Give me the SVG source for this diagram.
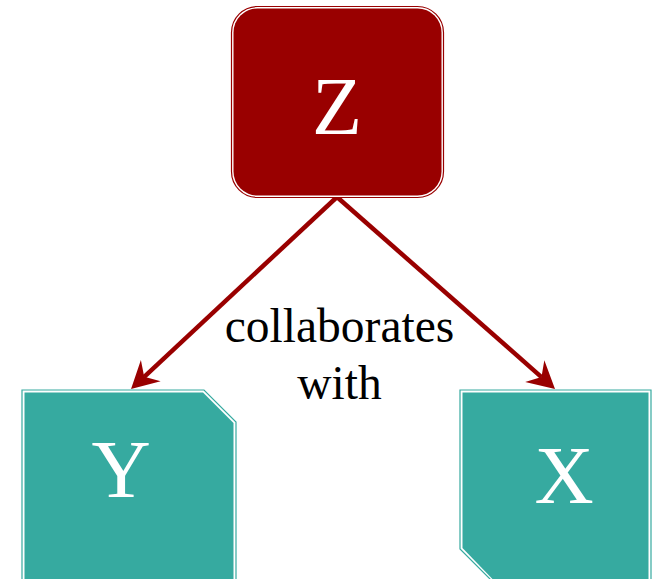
<svg xmlns="http://www.w3.org/2000/svg" width="652" height="579" viewBox="0 0 652 579">
<style>
.lbl{font-family:"Liberation Serif","Times New Roman",serif;fill:#ffffff;font-size:82px;text-anchor:middle}
.elbl{font-family:"Liberation Serif","Times New Roman",serif;fill:#000000;font-size:47.5px;text-anchor:middle}
.edge{stroke:#990000;stroke-width:4.5;fill:none}
.zout{fill:#ffffff;stroke:#990000;stroke-width:1.2}
.zin{fill:#990000}
.tout{fill:#ffffff;stroke:#36aaa0;stroke-width:1.2}
.tin{fill:#36aaa0}
</style>
<defs>
<marker id="vee" viewBox="0 -16 32 32" markerWidth="32" markerHeight="32" refX="12" refY="0" orient="auto" markerUnits="userSpaceOnUse">
<path d="M30,0 L3,-14.5 L12,0 L3,14.5 Z" fill="#990000"/>
</marker>
</defs>
<g id="connectors">
<line class="edge" x1="337" y1="197" x2="144.2" y2="376.8" marker-end="url(#vee)"/>
<line class="edge" x1="337" y1="197" x2="541.5" y2="377.1" marker-end="url(#vee)"/>
<text class="elbl" x="339.5" y="341.5">collaborates</text>
<text class="elbl" x="339.5" y="398.5">with</text>
</g>
<g id="node-z">
<rect class="zout" x="231.5" y="6.5" width="212" height="191" rx="26"/>
<rect class="zin" x="233.5" y="8.5" width="208" height="187" rx="24"/>
<text class="lbl" x="337" y="134">Z</text>
</g>
<g id="node-y">
<polygon class="tout" points="22,390 204,390 236,422 236,620 22,620"/>
<polygon class="tin" points="24.5,392.5 203,392.5 233.5,423 233.5,620 24.5,620"/>
<text class="lbl" x="121" y="497">Y</text>
</g>
<g id="node-x">
<polygon class="tout" points="460,390 651,390 651,620 531,620 460,549"/>
<polygon class="tin" points="462.5,392.5 648.5,392.5 648.5,620 532,620 462.5,548"/>
<text class="lbl" x="564" y="503">X</text>
</g>
</svg>
